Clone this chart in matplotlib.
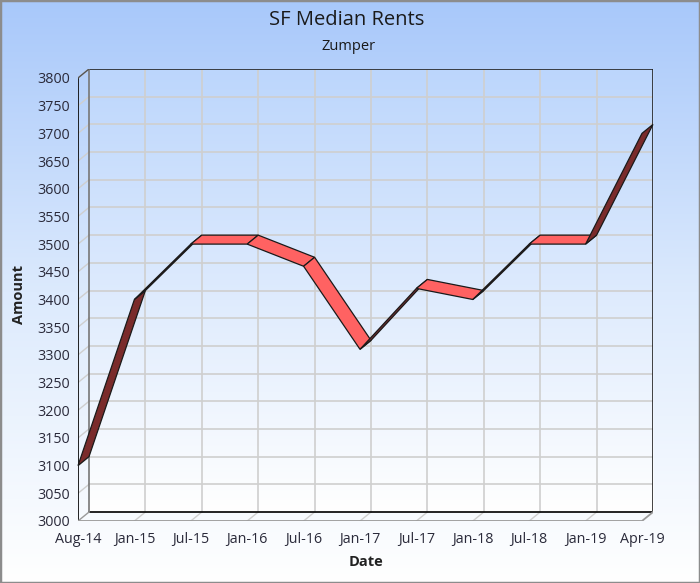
"""SF median rents (Zumper) drawn as a 3D-style ribbon line chart."""

import numpy as np
import matplotlib.pyplot as plt
from matplotlib.colors import LinearSegmentedColormap
from matplotlib.patches import Polygon, Rectangle

dates = ['Aug-14', 'Jan-15', 'Jul-15', 'Jan-16', 'Jul-16', 'Jan-17',
         'Jul-17', 'Jan-18', 'Jul-18', 'Jan-19', 'Apr-19']
rents = [3100, 3400, 3500, 3500, 3460, 3310, 3420, 3400, 3500, 3500, 3700]
y_ticks = list(range(3000, 3801, 50))

# depth of the fake 3D box, in data units (category, value)
DX, DY = 0.195, 16.2
RED, DARK = '#ff6262', '#7a2b2b'
GRID = '#cfcfcf'

plt.rcParams['font.family'] = ['Open Sans', 'DejaVu Sans']

fig = plt.figure(figsize=(7, 5.83), dpi=100)

# figure background gradient + border
bg = fig.add_axes([0, 0, 1, 1], zorder=-2)
sky = LinearSegmentedColormap.from_list('sky', ['#a8c8fa', '#dceafd', '#ffffff'])
bg.imshow(np.linspace(0, 1, 256).reshape(-1, 1), cmap=sky, aspect='auto',
          extent=[0, 1, 0, 1])
bg.add_patch(Rectangle((0, 0), 1, 1, transform=bg.transAxes, fill=False,
                       edgecolor='#8c8c8c', lw=2.5))
bg.set_xlim(0, 1)
bg.set_ylim(0, 1)
bg.axis('off')

ax = fig.add_axes([78 / 700, 62 / 583, 575 / 700, 452 / 583])
n = len(dates)
xmax = n - 1
ymin, ymax = y_ticks[0], y_ticks[-1]

# back wall gradient
wall = LinearSegmentedColormap.from_list('wall', ['#bcd6fc', '#ffffff'])
ax.imshow(np.linspace(0, 1, 256).reshape(-1, 1), cmap=wall, aspect='auto',
          extent=[DX, xmax + DX, ymin + DY, ymax + DY], zorder=0)

# grid on back wall, left wall and floor
for v in y_ticks[1:-1]:
    ax.plot([DX, xmax + DX], [v + DY, v + DY], color=GRID, lw=1.2, zorder=1)
for v in y_ticks[1:]:
    ax.plot([0, DX], [v, v + DY], color=GRID, lw=1, zorder=1)
for i in range(1, n - 1):
    ax.plot([i + DX, i + DX], [ymin + DY, ymax + DY], color=GRID, lw=1.2, zorder=1)
for i in range(1, n - 1):
    ax.plot([i, i + DX], [ymin, ymin + DY], color=GRID, lw=1, zorder=1)

# box outline
ax.plot([DX, xmax + DX, xmax + DX], [ymax + DY, ymax + DY, ymin + DY],
        color='#222222', lw=1.2, zorder=2)
ax.plot([DX, xmax + DX], [ymin + DY, ymin + DY], color='#111111', lw=1.3, zorder=2)
ax.plot([DX, DX], [ymin + DY, ymax + DY], color='#777777', lw=1.2, zorder=2)
ax.plot([0, 0], [ymin, ymax], color='#111111', lw=1.3, zorder=2)
ax.plot([0, DX], [ymax, ymax + DY], color='#555555', lw=1, zorder=2)
ax.plot([0, xmax, xmax + DX], [ymin, ymin, ymin + DY], color='#9a9a9a', lw=1.3, zorder=2)
ax.plot([0, DX], [ymin, ymin + DY], color='#9a9a9a', lw=1, zorder=2)

# ribbon segments, shaded by which side faces the viewer
px_x, px_y = 575 / (xmax + DX), 452 / (ymax + DY - ymin)
for i in range(n - 1):
    x0, x1, y0, y1 = i, i + 1, rents[i], rents[i + 1]
    cross = (x1 - x0) * px_x * DY * px_y - (y1 - y0) * px_y * DX * px_x
    poly = Polygon([(x0, y0), (x1, y1), (x1 + DX, y1 + DY), (x0 + DX, y0 + DY)],
                   closed=True, facecolor=RED if cross > 0 else DARK,
                   edgecolor='#1a1a1a', lw=0.9, zorder=3, clip_on=False)
    ax.add_patch(poly)

ax.set_xlim(0, xmax + DX)
ax.set_ylim(ymin, ymax + DY)
ax.set_xticks(range(n))
ax.set_xticklabels(dates)
ax.set_yticks(y_ticks)
ax.tick_params(length=0, labelsize=10.3, colors='#2a2a3a')
ax.tick_params(axis='x', pad=8)
ax.tick_params(axis='y', pad=6)
for s in ax.spines.values():
    s.set_visible(False)
ax.patch.set_visible(False)

ax.set_xlabel('Date', fontsize=10.5, fontweight='bold', color='#222222', labelpad=6)
ax.set_ylabel('Amount', fontsize=10.5, fontweight='bold', color='#222222', labelpad=8)

fig.text(0.495, 1 - 20 / 583, 'SF Median Rents', ha='center', va='center',
         fontsize=14.5, color='#1a1a1a')
fig.text(0.498, 1 - 46 / 583, 'Zumper', ha='center', va='center',
         fontsize=10.5, color='#1a1a1a')

fig.savefig('out.png', dpi=100)
